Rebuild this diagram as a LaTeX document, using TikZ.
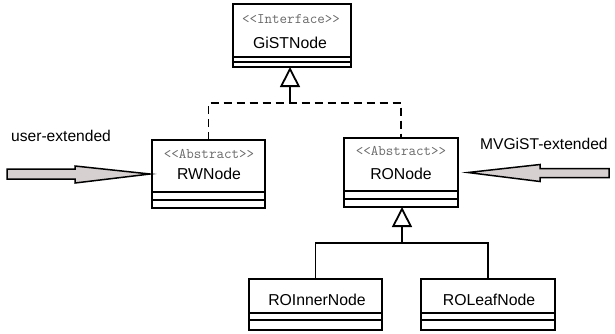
\documentclass[tikz,border=0pt]{standalone}
\usepackage{fontspec}
\setmainfont{Liberation Sans}
\usetikzlibrary{arrows.meta,calc}
\definecolor{arrowfill}{RGB}{214,208,208}
\definecolor{stereogray}{RGB}{105,105,105}

\begin{document}
\begin{tikzpicture}[x=1pt,y=-1pt,
  classbox/.style={draw, line width=1.5pt, fill=white, inner sep=0pt, outer sep=0pt},
  sep/.style={line width=1.3pt},
  stereo/.style={font=\ttfamily\fontsize{14.6}{16}\selectfont, text=stereogray, inner sep=0pt, anchor=base},
  cname/.style={font=\fontsize{15.8}{18}\selectfont, inner sep=0pt, anchor=base},
  lbl/.style={font=\fontsize{15.6}{18}\selectfont, inner sep=0pt, anchor=base west},
  realize/.style={line width=1.8pt, dash pattern=on 8pt off 5pt},
  gen/.style={line width=1.8pt},
  hollowtip/.style={-{Triangle[open,length=20pt,width=20pt]}},
  blockarrow/.style={draw, line width=1.5pt, fill=arrowfill, line join=miter}]
\useasboundingbox (0,0) rectangle (615,333);

% class boxes
\node[classbox, minimum width=118pt, minimum height=63pt] (gist)  at (292,35.5) {};
\node[classbox, minimum width=113pt, minimum height=68pt] (rw)    at (208.5,174) {};
\node[classbox, minimum width=114pt, minimum height=69pt] (ro)    at (401,172.5) {};
\node[classbox, minimum width=133pt, minimum height=51pt] (inner) at (315.5,304.5) {};
\node[classbox, minimum width=134pt, minimum height=51pt] (leaf)  at (488,304.5) {};

% compartments
\foreach \n/\a/\b in {gist/10/5, rw/16/8, ro/16/8, inner/17/10, leaf/17/10}{
  \draw[sep] ($(\n.south west)+(0,-\a)$) -- ($(\n.south east)+(0,-\a)$);
  \draw[sep] ($(\n.south west)+(0,-\b)$) -- ($(\n.south east)+(0,-\b)$);
}

% class texts
\node[stereo] (gistst) at (291,23) {<<Interface>>};
\node[cname]  (gistnm) at (290,48) {GiSTNode};
\node[stereo] (rwst)   at (209,158) {<<Abstract>>};
\node[cname]  (rwnm)   at (209,179) {RWNode};
\node[stereo] (rost)   at (401,155) {<<Abstract>>};
\node[cname]  (ronm)   at (401,179) {RONode};
\node[cname]  (innm)   at (317,305) {ROInnerNode};
\node[cname]  (lfnm)   at (489,305) {ROLeafNode};

% realization of the interface
\coordinate (j1) at (290,103);
\draw[realize] (rw.north) |- (j1) -| (ro.north);
\draw[gen, hollowtip] (j1) -- (gist.south -| j1);

% generalization of RONode
\coordinate (j2) at (402,243);
\draw[gen] (inner.north) |- (j2) -| (leaf.north);
\draw[gen, hollowtip] (j2) -- (ro.south -| j2);

% side labels
\node[lbl] (ue) at (11,141) {user-extended};
\node[lbl] (mv) at (480,149) {MVGiST-extended};

% block arrows
\coordinate (lt) at ([xshift=-2pt]rw.west);
\filldraw[blockarrow] (lt) -- ++(-75,-8) -- ++(0,3) -- ++(-68,0) -- ++(0,10)
  -- ++(68,0) -- ++(0,4) -- cycle;
\coordinate (rt) at ([xshift=10pt]ro.east);
\filldraw[blockarrow] (rt) -- ++(72,-8) -- ++(0,4) -- ++(69,0) -- ++(0,9)
  -- ++(-69,0) -- ++(0,4) -- cycle;
\end{tikzpicture}
\end{document}
